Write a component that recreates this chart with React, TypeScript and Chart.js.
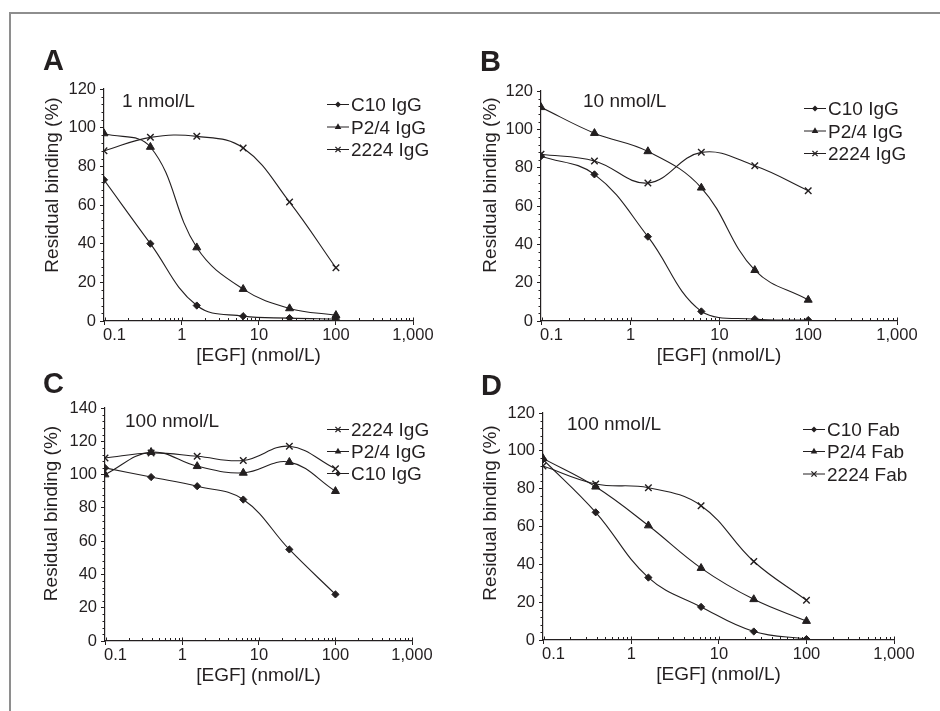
import React, { useEffect, useRef } from "react";
import { Chart, registerables } from "chart.js";

Chart.register(...registerables);

const INK = "#231f20";
const FONT = '"Liberation Sans", Arial, Helvetica, sans-serif';

// EGF concentrations (nmol/L), 4-fold dilution series
const egfConc = [0.09765625, 0.390625, 1.5625, 6.25, 25, 100];
const xMajorTicks = [0.1, 1, 10, 100, 1000];
const xTickLabels = ["0.1", "1", "10", "100", "1,000"];
const xTitle = "[EGF] (nmol/L)";
const yTitle = "Residual binding (%)";

// Panel A – 1 nmol/L
const aC10 = [73, 40, 8, 2.5, 1.5, 1];
const aP24 = [97, 90, 38, 16.5, 6.5, 3];
const a2224 = [88, 95, 95.5, 89.5, 61.5, 27.5];

// Panel B – 10 nmol/L
const bC10 = [86, 76.5, 44, 5, 1, 0.5];
const bP24 = [111.5, 98, 88.5, 69.5, 26.5, 11];
const b2224 = [87, 83.5, 72, 88, 81, 68];

// Panel C – 100 nmol/L (IgG)
const cC10 = [104, 98.5, 93, 85, 55, 28];
const cP24 = [100, 113.5, 105, 101, 107.5, 90];
const c2224 = [110, 113, 111, 108.5, 117, 103.5];

// Panel D – 100 nmol/L (Fab)
const dC10 = [95.5, 67.5, 33, 17.5, 4.5, 0.5];
const dP24 = [96, 81, 60.5, 38, 21.5, 10];
const d2224 = [92, 82.5, 80.5, 71, 41.5, 21];

type Marker = "diamond" | "triangle" | "cross";
interface SeriesSpec {
  label: string;
  values: number[];
  marker: Marker;
}
interface PanelSpec {
  letter: string;
  note: string;
  yMax: number;
  series: SeriesSpec[]; // legend order
  box: { left: number; top: number; width: number; height: number };
  area: { left: number; top: number; right: number; bottom: number }; // absolute page coords
  letterPos: [number, number];
  notePos: [number, number];
  yTitlePos: [number, number];
  legendX: number;
  legendBaselines: number[];
}

const panels: PanelSpec[] = [
  {
    letter: "A",
    note: "1 nmol/L",
    yMax: 120,
    series: [
      { label: "C10 IgG", values: aC10, marker: "diamond" },
      { label: "P2/4 IgG", values: aP24, marker: "triangle" },
      { label: "2224 IgG", values: a2224, marker: "cross" },
    ],
    box: { left: 0, top: 0, width: 470, height: 380 },
    area: { left: 104, top: 89, right: 413, bottom: 321 },
    letterPos: [43, 69.5],
    notePos: [122, 107],
    yTitlePos: [52.5, 185],
    legendX: 327,
    legendBaselines: [111, 133.5, 156],
  },
  {
    letter: "B",
    note: "10 nmol/L",
    yMax: 120,
    series: [
      { label: "C10 IgG", values: bC10, marker: "diamond" },
      { label: "P2/4 IgG", values: bP24, marker: "triangle" },
      { label: "2224 IgG", values: b2224, marker: "cross" },
    ],
    box: { left: 470, top: 0, width: 470, height: 380 },
    area: { left: 541, top: 91, right: 897, bottom: 321 },
    letterPos: [480, 70.5],
    notePos: [583, 107],
    yTitlePos: [490.7, 185],
    legendX: 804,
    legendBaselines: [115, 137.5, 160],
  },
  {
    letter: "C",
    note: "100 nmol/L",
    yMax: 140,
    series: [
      { label: "2224 IgG", values: c2224, marker: "cross" },
      { label: "P2/4 IgG", values: cP24, marker: "triangle" },
      { label: "C10 IgG", values: cC10, marker: "diamond" },
    ],
    box: { left: 0, top: 360, width: 470, height: 351 },
    area: { left: 105, top: 408, right: 412, bottom: 641 },
    letterPos: [43, 393],
    notePos: [125, 426.5],
    yTitlePos: [52, 513.5],
    legendX: 327,
    legendBaselines: [436, 458, 480],
  },
  {
    letter: "D",
    note: "100 nmol/L",
    yMax: 120,
    series: [
      { label: "C10 Fab", values: dC10, marker: "diamond" },
      { label: "P2/4 Fab", values: dP24, marker: "triangle" },
      { label: "2224 Fab", values: d2224, marker: "cross" },
    ],
    box: { left: 470, top: 360, width: 470, height: 351 },
    area: { left: 543, top: 413, right: 894, bottom: 640 },
    letterPos: [481, 395],
    notePos: [567, 430],
    yTitlePos: [490.7, 513],
    legendX: 803,
    legendBaselines: [436, 458, 480.5],
  },
];

const chartStyle: Record<Marker, string> = {
  diamond: "rectRot",
  triangle: "triangle",
  cross: "crossRot",
};
const chartRadius: Record<Marker, number> = { diamond: 3.6, triangle: 4.6, cross: 4.6 };

function drawMarker(ctx: CanvasRenderingContext2D, m: Marker, x: number, y: number) {
  ctx.beginPath();
  if (m === "diamond") {
    const r = 3;
    ctx.moveTo(x, y - r);
    ctx.lineTo(x + r, y);
    ctx.lineTo(x, y + r);
    ctx.lineTo(x - r, y);
    ctx.closePath();
    ctx.fill();
  } else if (m === "triangle") {
    const r = 3.8;
    ctx.moveTo(x, y - r);
    ctx.lineTo(x + r * 0.87, y + r * 0.5);
    ctx.lineTo(x - r * 0.87, y + r * 0.5);
    ctx.closePath();
    ctx.fill();
  } else {
    const r = 2.6;
    ctx.lineWidth = 1.3;
    ctx.moveTo(x - r, y - r);
    ctx.lineTo(x + r, y + r);
    ctx.moveTo(x + r, y - r);
    ctx.lineTo(x - r, y + r);
    ctx.stroke();
  }
}

function makeOverlay(p: PanelSpec) {
  const ox = p.box.left;
  const oy = p.box.top;
  return {
    id: "overlay" + p.letter,
    afterDraw(chart: any) {
      const ctx: CanvasRenderingContext2D = chart.ctx;
      const xs = chart.scales.x;
      const ys = chart.scales.y;
      const a = chart.chartArea;
      ctx.save();
      ctx.strokeStyle = INK;
      ctx.fillStyle = INK;
      ctx.lineWidth = 1;

      // minor y ticks (every 4 units)
      for (let v = 4; v < p.yMax; v += 4) {
        if (v % 20 === 0) continue;
        const y = Math.round(ys.getPixelForValue(v)) + 0.5;
        ctx.beginPath();
        ctx.moveTo(a.left - 2.5, y);
        ctx.lineTo(a.left, y);
        ctx.stroke();
      }
      // minor x ticks (inside) and major tick upper halves
      for (const dec of [0.1, 1, 10, 100]) {
        for (let k = 2; k <= 9; k++) {
          const x = Math.round(xs.getPixelForValue(dec * k)) + 0.5;
          ctx.beginPath();
          ctx.moveTo(x, a.bottom);
          ctx.lineTo(x, a.bottom - 3);
          ctx.stroke();
        }
      }
      for (const v of xMajorTicks) {
        const x = Math.round(xs.getPixelForValue(v)) + 0.5;
        ctx.beginPath();
        ctx.moveTo(x, a.bottom);
        ctx.lineTo(x, a.bottom - 3.5);
        ctx.stroke();
      }

      // x tick labels
      ctx.font = `16.5px ${FONT}`;
      ctx.textBaseline = "alphabetic";
      xMajorTicks.forEach((v, i) => {
        const px = xs.getPixelForValue(v);
        ctx.textAlign = i === 0 ? "left" : "center";
        ctx.fillText(xTickLabels[i], i === 0 ? a.left - 1 : px, a.bottom + 18.5);
      });

      // axis titles
      ctx.font = `19px ${FONT}`;
      ctx.textAlign = "center";
      ctx.fillText(xTitle, (a.left + a.right) / 2, a.bottom + 40);
      ctx.save();
      ctx.translate(p.yTitlePos[0] - ox, p.yTitlePos[1] - oy);
      ctx.rotate(-Math.PI / 2);
      ctx.textBaseline = "middle";
      ctx.fillText(yTitle, 0, 0);
      ctx.restore();

      // concentration note
      ctx.textAlign = "left";
      ctx.textBaseline = "alphabetic";
      ctx.fillText(p.note, p.notePos[0] - ox, p.notePos[1] - oy);

      // panel letter
      ctx.font = `bold 29px ${FONT}`;
      ctx.fillText(p.letter, p.letterPos[0] - ox, p.letterPos[1] - oy);

      // legend
      ctx.font = `19px ${FONT}`;
      p.series.forEach((s, i) => {
        const base = p.legendBaselines[i] - oy;
        const yMid = base - 6.5;
        const lx = p.legendX - ox;
        ctx.lineWidth = 1;
        ctx.beginPath();
        ctx.moveTo(lx, yMid);
        ctx.lineTo(lx + 22, yMid);
        ctx.stroke();
        drawMarker(ctx, s.marker, lx + 11, yMid);
        ctx.fillText(s.label, lx + 24, base);
      });
      ctx.restore();
    },
  };
}

function Panel({ p }: { p: PanelSpec }) {
  const ref = useRef<HTMLCanvasElement | null>(null);
  useEffect(() => {
    if (!ref.current) return;
    const yw = 50;
    const xh = 40;
    const loc = {
      left: p.area.left - p.box.left,
      right: p.area.right - p.box.left,
      top: p.area.top - p.box.top,
      bottom: p.area.bottom - p.box.top,
    };
    const chart = new Chart(ref.current, {
      type: "line",
      data: {
        datasets: p.series.map((s) => ({
          label: s.label,
          data: egfConc.map((x, i) => ({ x, y: s.values[i] })),
          borderColor: INK,
          borderWidth: 1.1,
          backgroundColor: INK,
          pointStyle: chartStyle[s.marker] as any,
          pointRadius: chartRadius[s.marker],
          pointBackgroundColor: INK,
          pointBorderColor: INK,
          pointBorderWidth: s.marker === "cross" ? 1.4 : 1,
          tension: 0.4,
          fill: false,
        })),
      },
      options: {
        responsive: false,
        animation: false,
        devicePixelRatio: 1,
        layout: {
          padding: {
            left: loc.left - yw,
            right: p.box.width - loc.right,
            top: loc.top,
            bottom: p.box.height - loc.bottom - xh,
          },
        },
        plugins: { legend: { display: false }, tooltip: { enabled: false } },
        scales: {
          x: {
            type: "logarithmic",
            min: egfConc[0],
            max: 1000,
            afterBuildTicks: (s: any) => {
              s.ticks = xMajorTicks.map((v) => ({ value: v, major: true }));
            },
            afterFit: (s: any) => {
              s.height = xh;
            },
            ticks: { display: false },
            grid: {
              display: true,
              drawOnChartArea: false,
              drawTicks: true,
              tickLength: 4,
              color: INK,
              tickColor: INK,
              tickWidth: 1,
            },
            border: { display: true, color: INK, width: 1.2 },
          },
          y: {
            type: "linear",
            min: 0,
            max: p.yMax,
            afterFit: (s: any) => {
              s.width = yw;
            },
            ticks: {
              stepSize: 20,
              padding: 4,
              color: INK,
              font: { family: FONT, size: 16.5 },
            },
            grid: {
              display: true,
              drawOnChartArea: false,
              drawTicks: true,
              tickLength: 4,
              color: INK,
              tickColor: INK,
              tickWidth: 1,
            },
            border: { display: true, color: INK, width: 1.2 },
          },
        },
      },
      plugins: [makeOverlay(p)],
    } as any);
    return () => chart.destroy();
  }, [p]);
  return (
    <canvas
      ref={ref}
      width={p.box.width}
      height={p.box.height}
      style={{
        position: "absolute",
        left: p.box.left,
        top: p.box.top,
        width: p.box.width,
        height: p.box.height,
      }}
    />
  );
}

export default function App() {
  return (
    <div
      style={{
        position: "absolute",
        left: 0,
        top: 0,
        width: 940,
        height: 711,
        background: "#ffffff",
        overflow: "hidden",
      }}
    >
      <div
        style={{
          position: "absolute",
          left: 9,
          top: 12,
          width: 960,
          height: 760,
          borderTop: "2px solid #8e8e8e",
          borderLeft: "2px solid #8e8e8e",
          boxSizing: "border-box",
        }}
      />
      {panels.map((p) => (
        <Panel key={p.letter} p={p} />
      ))}
    </div>
  );
}
